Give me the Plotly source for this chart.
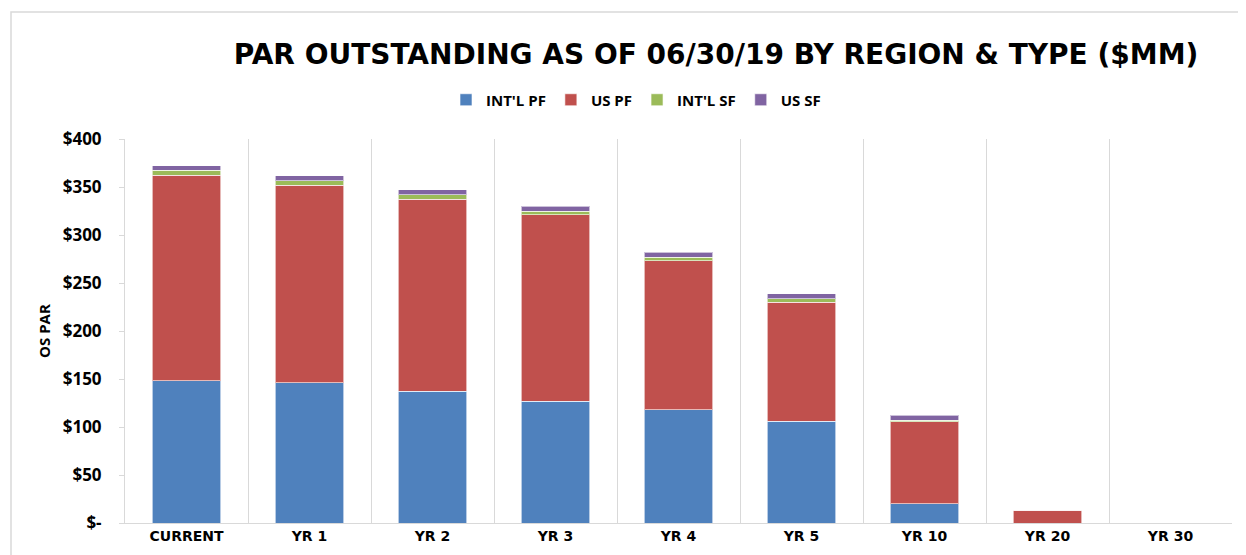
import plotly.graph_objects as go

categories = ["CURRENT", "YR 1", "YR 2", "YR 3", "YR 4", "YR 5", "YR 10", "YR 20", "YR 30"]
intl_pf = [148, 146, 137, 127, 118, 106, 20, 0, 0]
us_pf = [214.5, 206, 200, 194, 155, 124, 85.5, 13.5, 0]
intl_sf = [5, 4.5, 5, 4, 4, 3.5, 1.5, 0, 0]
us_sf = [4.6, 5.3, 5, 5, 5, 5.5, 5, 0, 0]
y_ticks = [0, 50, 100, 150, 200, 250, 300, 350, 400]
y_tick_text = ["$-", "$50", "$100", "$150", "$200", "$250", "$300", "$350", "$400"]

series = [
    ("INT'L PF", intl_pf, "#4F81BD"),
    ("US PF", us_pf, "#C0504D"),
    ("INT'L SF", intl_sf, "#9BBB59"),
    ("US SF", us_sf, "#8064A2"),
]

fig = go.Figure()
for name, vals, color in series:
    fig.add_trace(go.Bar(
        x=categories, y=vals, name=name,
        marker=dict(color=color, line=dict(color="rgba(255,255,255,0.6)", width=1)),
    ))

OFF = 8  # page body margin
W, H = 1246 - OFF, 555 - OFF
ml, mr, mt, mb = 125 - OFF, 14, 139 - OFF, 32
pw = W - ml - mr
ph = H - mt - mb

def px_x(x):
    return (x - OFF - ml) / pw

def px_y(y):
    return (H - mb - (y - OFF)) / ph

fig.update_layout(
    width=W, height=H,
    barmode="stack",
    bargap=0.44,
    plot_bgcolor="white",
    paper_bgcolor="white",
    margin=dict(l=ml, r=mr, t=mt, b=mb),
    font=dict(family="Open Sans", color="black"),
    title=dict(
        text="<b>PAR OUTSTANDING AS OF 06/30/19 BY REGION &amp; TYPE ($MM)</b>",
        xref="paper", x=px_x(716), xanchor="center",
        y=1 - (54 - OFF) / H, yanchor="middle",
        font=dict(size=28, family="DejaVu Sans", color="black"),
    ),
    legend=dict(
        orientation="h",
        x=px_x(636), xanchor="center",
        y=px_y(100), yanchor="middle",
        font=dict(size=15, family="Open Sans", color="black", weight="bold"),
        traceorder="normal",
        itemwidth=30,
    ),
    xaxis=dict(
        type="category",
        tickson="boundaries",
        showgrid=True, gridcolor="#D9D9D9", gridwidth=1,
        showline=True, linecolor="#D9D9D9",
        ticks="",
        tickfont=dict(size=14, family="DejaVu Sans", color="black", weight="bold"),
    ),
    yaxis=dict(
        range=[0, 400],
        tickvals=y_ticks, ticktext=y_tick_text,
        showgrid=False,
        showline=True, linecolor="#D9D9D9",
        ticks="outside", ticklen=5, tickcolor="#D9D9D9",
        ticklabelstandoff=14,
        tickfont=dict(size=17, family="Open Sans", color="black", weight="bold"),
        title=dict(text="<b>OS PAR</b>", font=dict(size=15, family="Open Sans", color="black"), standoff=8),
        zeroline=False,
    ),
    shapes=[dict(
        type="rect", xref="paper", yref="paper",
        x0=px_x(11), x1=px_x(1240), y0=px_y(570), y1=px_y(12),
        line=dict(color="#D9D9D9", width=1.5), layer="below",
    )],
)

fig.write_html("out.html")
